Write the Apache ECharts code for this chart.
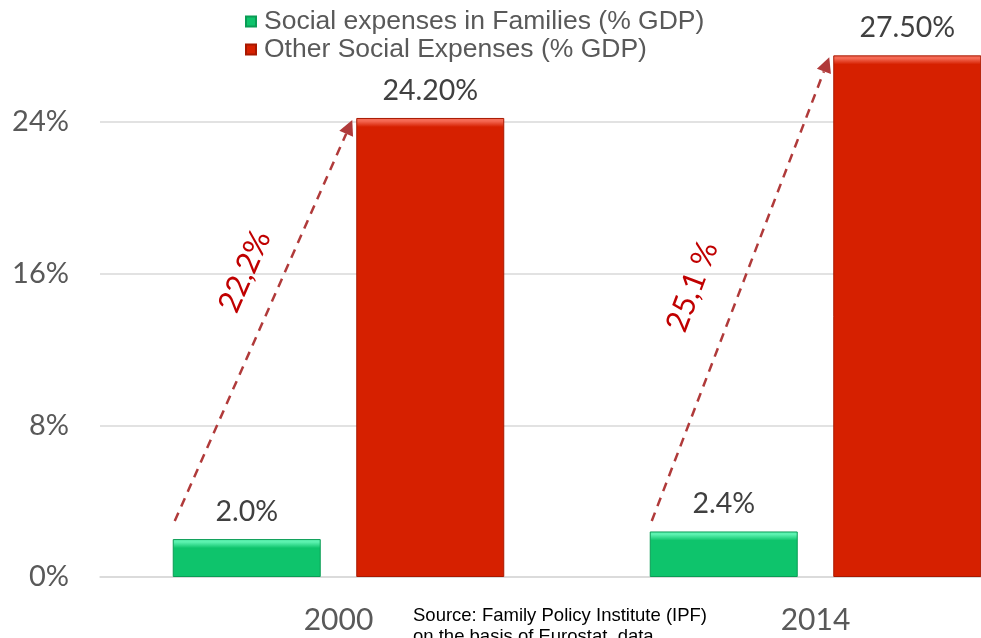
<!DOCTYPE html>
<html>
<head>
<meta charset="utf-8">
<title>Social expenses (% GDP)</title>
<script src="https://cdn.jsdelivr.net/npm/echarts@6/dist/echarts.min.js"></script>
<style>
  html, body { margin: 0; padding: 0; background: #ffffff; }
  #chart { width: 981px; height: 638px; }
</style>
</head>
<body>
<div id="chart"></div>
<script>
// Values (% of GDP)
const years = ['2000', '2014'];
const familyShare = [2.0, 2.4];
const otherShare = [24.2, 27.5];
const seriesNames = ['Social expenses in Families (% GDP)', 'Other Social Expenses (% GDP)'];
const growthLabels = ['22,2%', '25,1 %'];
const yTickStep = 8;
const yAxisMax = 32;
const sourceLines = ['Source: Family Policy Institute (IPF)', 'on the basis of Eurostat  data'];

const NUM_FONT = 'Lato, "Open Sans", sans-serif';
const TXT_FONT = '"Liberation Sans", Arial, sans-serif';

const palette = {
  family: { light: '#5CF2B0', main: '#0EC46C', dark: '#0A9C55' },
  other:  { light: '#F56A55', main: '#D62000', dark: '#A81800' }
};

const chart = echarts.init(document.getElementById('chart'), null, { renderer: 'canvas' });

const labelStyle = {
  show: true,
  position: 'top',
  distance: 13,
  fontFamily: NUM_FONT,
  fontSize: 28.5,
  color: '#404040'
};

chart.setOption({
  animation: false,
  backgroundColor: '#ffffff',
  grid: { left: 100, right: -73, top: -30, bottom: 61, containLabel: false, outerBoundsMode: 'none' },
  legend: {
    data: seriesNames,
    orient: 'vertical',
    left: 240,
    top: 3,
    itemGap: 1,
    itemWidth: 10,
    itemHeight: 10,
    icon: 'rect',
    textStyle: { fontFamily: TXT_FONT, fontSize: 26.5, lineHeight: 26, color: '#595959', padding: [0, 0, 0, 3] }
  },
  xAxis: {
    type: 'category',
    data: years,
    axisLine: { show: true, lineStyle: { color: '#D9D9D9', width: 1.5 } },
    axisTick: { show: false },
    axisLabel: { fontFamily: NUM_FONT, fontSize: 30, color: '#595959', margin: 28 }
  },
  yAxis: {
    type: 'value',
    min: 0,
    max: yAxisMax,
    interval: yTickStep,
    axisLine: { show: false },
    axisTick: { show: false },
    axisLabel: { formatter: '{value}%', fontFamily: NUM_FONT, fontSize: 29, color: '#595959', margin: 31 },
    splitLine: { lineStyle: { color: '#D9D9D9', width: 1.5 } }
  },
  series: [
    {
      name: seriesNames[0],
      type: 'bar',
      data: familyShare,
      barWidth: 148,
      barGap: '24%',
      itemStyle: { color: palette.family.main, borderColor: palette.family.dark, borderWidth: 1 },
      label: Object.assign({}, labelStyle, { formatter: p => p.value.toFixed(1) + '%' })
    },
    {
      name: seriesNames[1],
      type: 'bar',
      data: otherShare,
      barWidth: 148,
      barGap: '24%',
      itemStyle: { color: palette.other.main, borderColor: palette.other.dark, borderWidth: 1 },
      label: Object.assign({}, labelStyle, { formatter: p => p.value.toFixed(2) + '%' })
    }
  ]
});

// Bar rectangles as laid out by the bar series
function barRects(seriesIndex, values) {
  const rects = [];
  try {
    const data = chart.getModel().getSeriesByIndex(seriesIndex).getData();
    for (let i = 0; i < values.length; i++) {
      const l = data.getItemLayout(i);
      const top = Math.min(l.y, l.y + l.height);
      rects.push({ x: Math.min(l.x, l.x + l.width), w: Math.abs(l.width), top: top, h: Math.abs(l.height) });
    }
  } catch (e) {
    const base = chart.convertToPixel({ yAxisIndex: 0 }, 0);
    for (let i = 0; i < values.length; i++) {
      const cx = chart.convertToPixel({ xAxisIndex: 0 }, years[i]);
      const top = chart.convertToPixel({ yAxisIndex: 0 }, values[i]);
      const x = seriesIndex === 0 ? cx - 165.5 : cx + 17.5;
      rects.push({ x: x, w: 148, top: top, h: base - top });
    }
  }
  return rects;
}

// Bevelled fill: a bright strip along the top of each bar
function bevel(colors, h) {
  const s = px => Math.min(0.95, px / Math.max(h, 1));
  return {
    type: 'linear', x: 0, y: 0, x2: 0, y2: 1,
    colorStops: [
      { offset: 0, color: colors.light },
      { offset: s(3), color: colors.light },
      { offset: s(9), color: colors.main },
      { offset: 1, color: colors.main }
    ]
  };
}

const famRects = barRects(0, familyShare);
const othRects = barRects(1, otherShare);

// Dashed growth arrows from each family bar to the matching total bar
const arrowBase = 2.95;
const textPlace = [{ t: 0.585, off: 37 }, { t: 0.47, off: 46 }];
const graphics = [];
years.forEach((y, i) => {
  const fr = famRects[i], orr = othRects[i];
  const x0 = fr.x + 2;
  const y0 = chart.convertToPixel({ yAxisIndex: 0 }, arrowBase);
  const x1 = orr.x - 4;
  const y1 = orr.top + 2;
  const dx = x1 - x0, dy = y1 - y0;
  const len = Math.sqrt(dx * dx + dy * dy);
  const ux = dx / len, uy = dy / len;
  const headLen = 15, headHalf = 7.5;
  const bx = x1 - ux * headLen, by = y1 - uy * headLen;
  graphics.push({
    type: 'line', silent: true, z: 10,
    shape: { x1: x0, y1: y0, x2: bx, y2: by },
    style: { stroke: '#B03A3A', lineWidth: 2.5, lineDash: [9, 7] }
  });
  graphics.push({
    type: 'polygon', silent: true, z: 10,
    shape: { points: [[x1, y1], [bx - uy * headHalf, by + ux * headHalf], [bx + uy * headHalf, by - ux * headHalf]] },
    style: { fill: '#B03A3A' }
  });
  // label on the left side of the arrow, rotated along it
  const nx = uy, ny = -ux; // left-hand normal (screen coords)
  const p = textPlace[i];
  const cx = x0 + dx * p.t + nx * p.off;
  const cy = y0 + dy * p.t + ny * p.off;
  graphics.push({
    type: 'text', silent: true, z: 11,
    x: cx, y: cy,
    rotation: Math.atan2(-dy, dx),
    style: {
      text: growthLabels[i],
      fontFamily: NUM_FONT, fontSize: 31,
      fill: '#C00000', align: 'center', verticalAlign: 'middle'
    }
  });
});

graphics.push({
  type: 'text', silent: true, z: 11,
  x: 413, y: 605,
  style: {
    text: sourceLines.join('\n'),
    fontFamily: TXT_FONT, fontSize: 18.5, lineHeight: 21, fill: '#000000'
  }
});

chart.setOption({
  series: [
    { data: familyShare.map((v, i) => ({ value: v, itemStyle: { color: bevel(palette.family, famRects[i].h) } })) },
    { data: otherShare.map((v, i) => ({ value: v, itemStyle: { color: bevel(palette.other, othRects[i].h) } })) }
  ],
  graphic: graphics
});
</script>
</body>
</html>
